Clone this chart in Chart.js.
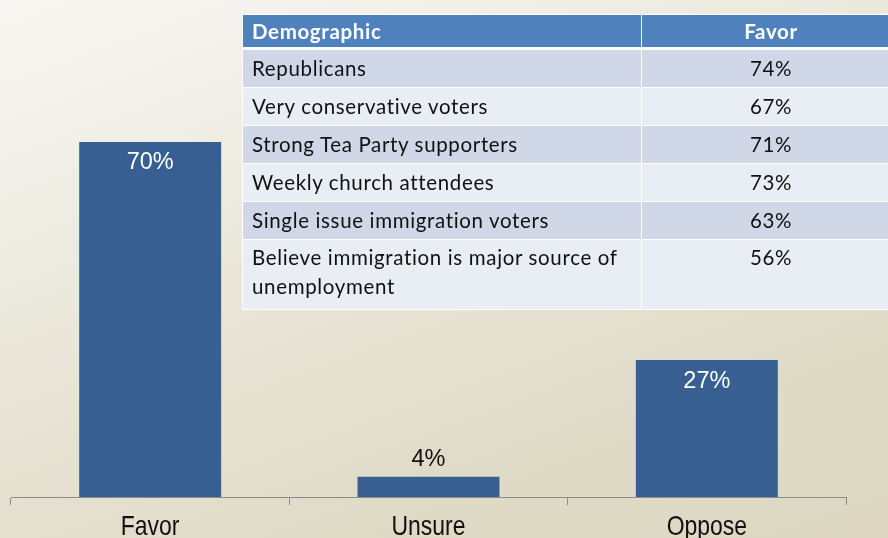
<!DOCTYPE html>
<html><head><meta charset="utf-8">
<script src="https://cdn.jsdelivr.net/npm/chart.js@4"></script>
<style>
html,body{margin:0;padding:0;}
body{width:888px;height:538px;overflow:hidden;position:relative;
background:linear-gradient(160deg,#F8F7F3 0%,#ECE9DE 35%,#E0DBC7 75%,#DDD7C2 100%);}
#wrap{position:absolute;left:0;top:0;width:888px;height:538px;}
#tbl{position:absolute;left:242px;top:14px;width:658px;table-layout:fixed;border-collapse:collapse;font-family:Lato,"Open Sans",sans-serif;font-size:20.5px;letter-spacing:0.65px;color:#111;}
#tbl td,#tbl th{padding:0 0 0 9px;border:1px solid #fff;text-align:left;vertical-align:top;overflow:visible;white-space:nowrap;}
#tbl th{background:#4F81BD;color:#fff;font-weight:bold;height:32px;vertical-align:middle;border-bottom:3px solid #fff;}
#tbl td.v,#tbl th.v{text-align:center;padding:0;}
#tbl tr.odd td{background:#D0D8E8;}
#tbl tr.even td{background:#E9EDF4;}
#tbl td{height:37px;line-height:37px;}
#tbl tr.tall td{height:66px;line-height:29px;padding-top:3px;}
</style></head>
<body>
<div id="wrap"><canvas id="c" width="888" height="538"></canvas></div>
<table id="tbl"><colgroup><col style="width:399px"><col style="width:259px"></colgroup><thead><tr><th>Demographic</th><th class="v">Favor</th></tr></thead><tbody id="tb"></tbody></table>
<script>
const categories = ["Favor","Unsure","Oppose"];
const values = [70,4,27];
const demographics = ["Republicans","Very conservative voters","Strong Tea Party supporters","Weekly church attendees","Single issue immigration voters","Believe immigration is major source of unemployment"];
const demoFavor = [74,67,71,73,63,56];

const tb = document.getElementById('tb');
demographics.forEach((d,i)=>{
  const tr=document.createElement('tr');
  tr.className=(i%2===0?'odd':'even')+(d.length>40?' tall':'');
  const a=document.createElement('td');a.textContent=d;
  if(d.length>40){a.innerHTML='Believe immigration is major source of<br>unemployment';}
  const b=document.createElement('td');b.className='v';b.textContent=demoFavor[i]+'%';
  tr.appendChild(a);tr.appendChild(b);tb.appendChild(tr);
});

const labelPlugin={id:'lbl',afterDatasetsDraw(chart){
  const ctx=chart.ctx;const meta=chart.getDatasetMeta(0);
  ctx.save();ctx.font='23.5px "Liberation Sans", Arial, sans-serif';ctx.textAlign='center';ctx.textBaseline='middle';
  meta.data.forEach((bar,i)=>{
    const v=values[i];
    if(bar.base-bar.y>40){ctx.fillStyle='#ffffff';ctx.fillText(v+'%',bar.x,bar.y+21);}
    else{ctx.fillStyle='#111111';ctx.fillText(v+'%',bar.x,bar.y-17);}
  });
  ctx.restore();
  const xs=chart.scales.x;
  ctx.save();ctx.font='28px "Liberation Sans", Arial, sans-serif';ctx.fillStyle='#111';ctx.textAlign='center';ctx.textBaseline='alphabetic';
  categories.forEach((c,i)=>{
    const px=xs.getPixelForTick(i);
    ctx.save();ctx.translate(px,535);ctx.scale(0.82,1);ctx.fillText(c,0,0);ctx.restore();
  });
  ctx.restore();
}};

new Chart(document.getElementById('c'),{
  type:'bar',
  data:{labels:categories,datasets:[{data:values,backgroundColor:'#375F91',borderWidth:0,barPercentage:0.51,categoryPercentage:1}]},
  options:{responsive:false,animation:false,
    layout:{padding:{left:11,right:42,top:0,bottom:0}},
    plugins:{legend:{display:false},tooltip:{enabled:false}},
    scales:{
      x:{grid:{offset:true,drawOnChartArea:false,drawTicks:true,tickLength:8,color:'#8C8C8C'},
         border:{color:'#8C8C8C',width:1},
         afterFit(scale){scale.height=41;},
         ticks:{color:'rgba(0,0,0,0)',font:{family:'"Liberation Sans", sans-serif',size:21},padding:1}},
      y:{display:false,min:0,max:98}
    }},
  plugins:[labelPlugin]
});
</script>
</body></html>
